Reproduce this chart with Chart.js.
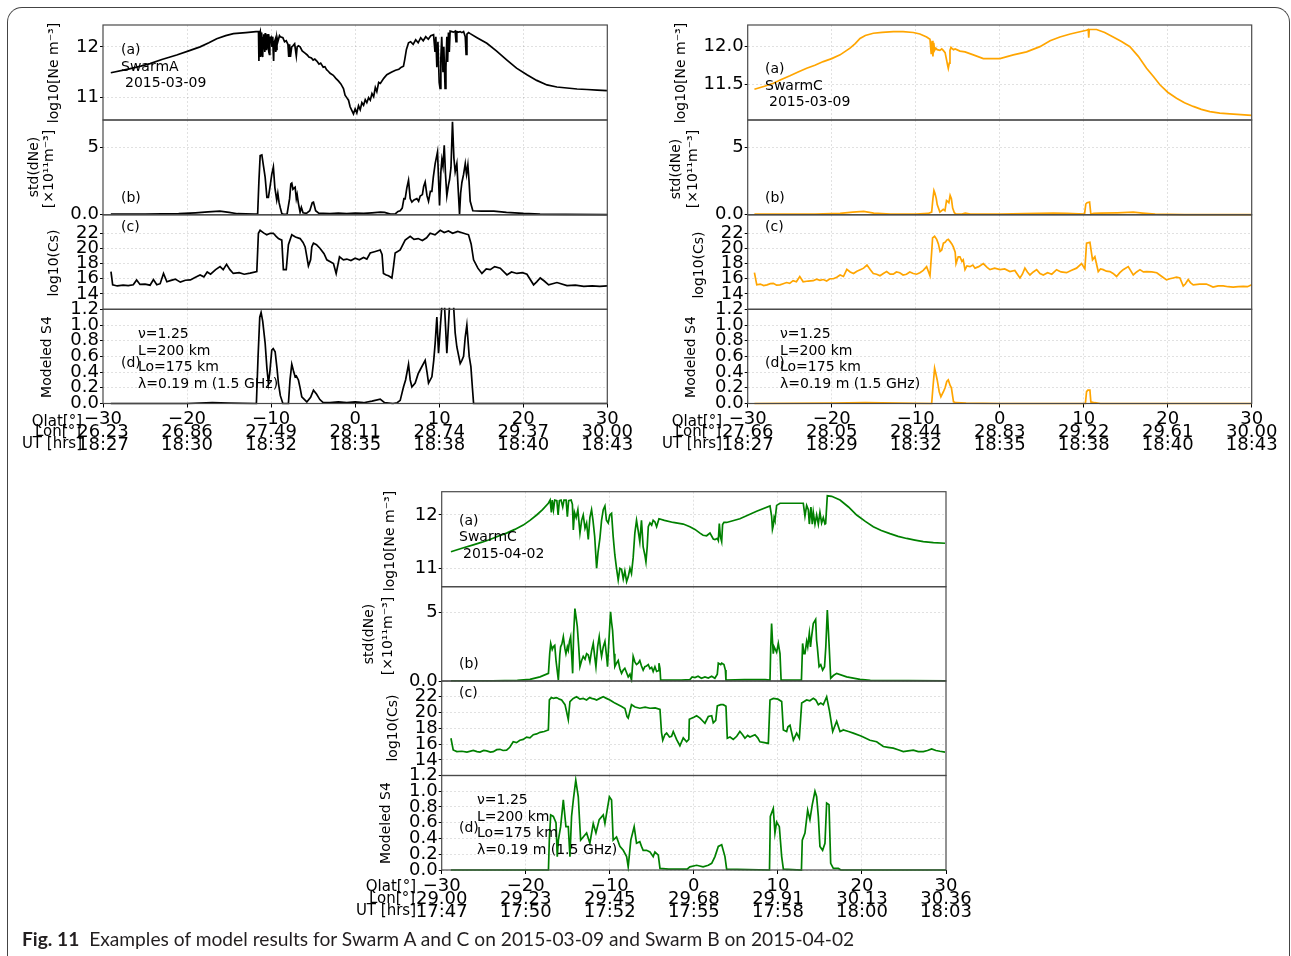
<!DOCTYPE html>
<html><head><meta charset="utf-8">
<script src="https://cdn.jsdelivr.net/npm/chart.js@4"></script>
<style>
html,body{margin:0;padding:0;}
body{width:1291px;height:956px;overflow:hidden;background:#fff;position:relative;font-family:"DejaVu Sans",sans-serif;}
canvas{position:absolute;}
.t{position:absolute;white-space:nowrap;color:#000;line-height:1;font-family:"DejaVu Sans",sans-serif;}
#frame{position:absolute;left:7px;top:7px;width:1283px;height:1100px;box-sizing:border-box;border:1.3px solid #444;border-bottom:none;border-radius:15px 15px 0 0;}
#cap{position:absolute;left:22px;top:938px;transform:translateY(-50%);font-family:Lato,"Liberation Sans",sans-serif;font-size:19.2px;color:#231f20;white-space:nowrap;}
</style></head><body>
<div id="frame"></div>
<script>
// ---------- tick labels ----------
const xTicks = [-30,-20,-10,0,10,20,30];
const lonA = ['26.23','26.86','27.49','28.11','28.74','29.37','30.00'];
const utA  = ['18:27','18:30','18:32','18:35','18:38','18:40','18:43'];
const lonC = ['27.66','28.05','28.44','28.83','29.22','29.61','30.00'];
const utC  = ['18:27','18:29','18:32','18:35','18:38','18:40','18:43'];
const lonB = ['29.00','29.23','29.45','29.68','29.91','30.13','30.36'];
const utB  = ['17:47','17:50','17:52','17:55','17:58','18:00','18:03'];
const neTicksA = [11,12];
const neTicksC = [11.5,12.0];
const neTicksB = [11,12];
const sdTicks = [0,5];
const csTicks = [14,16,18,20,22];
const s4Ticks = [0,0.2,0.4,0.6,0.8,1.0,1.2];

// ---------- Swarm A 2015-03-09 ----------
const neA = [[-29.07,11.49],[-27,11.56],[-25.5,11.62],[-24.4,11.67],[-23,11.75],[-21.23,11.84],[-19.8,11.92],[-18.45,12.0],[-17.4,12.08],[-16.47,12.16],[-15.4,12.22],[-14.48,12.26],[-13,12.28],[-11.8,12.3],[-11.5,12.3],
[-11.45,11.72],[-11.4,12.25],[-11.3,12.3],[-11.25,11.8],[-11.2,11.9],[-11.15,12.22],[-11.1,12.28],[-11.05,11.85],[-11.0,11.8],[-10.95,12.2],[-10.9,12.25],[-10.85,11.95],[-10.8,12.05],[-10.75,11.9],[-10.7,12.27],[-10.65,12.0],[-10.6,11.95],[-10.55,12.25],[-10.5,12.2],[-10.45,11.98],[-10.4,12.1],[-10.35,12.25],[-10.3,12.22],[-10.25,11.9],[-10.2,11.85],[-10.15,12.2],[-10.1,12.15],[-10.0,12.18],[-9.9,12.0],[-9.8,12.2],[-9.75,11.9],[-9.7,11.72],[-9.65,12.05],[-9.6,12.1],[-9.5,12.15],[-9.45,11.9],[-9.4,11.95],[-9.3,12.18],[-9.2,12.1],[-9.0,12.22],[-8.9,12.2],[-8.6,12.18],[-8.4,12.1],[-8.2,12.12],[-8.0,12.05],[-7.9,11.8],[-7.8,12.05],[-7.7,11.8],[-7.55,12.0],[-7.4,12.02],[-7.2,12.06],[-7.0,11.82],[-6.9,12.0],[-6.75,12.02],[-6.55,12.0],[-6.3,11.92],[-6.0,11.88],[-5.7,11.84],[-5.5,11.8],[-5.2,11.78],[-5.0,11.74],[-4.8,11.76],[-4.56,11.72],[-4.3,11.66],[-4.1,11.68],[-3.8,11.6],[-3.6,11.61],[-3.4,11.55],[-3.2,11.52],[-2.98,11.48],[-2.6,11.44],[-2.3,11.38],[-2.0,11.33],[-1.7,11.27],[-1.39,11.18],[-1.2,11.05],[-1.0,11.0],[-0.79,10.95],[-0.6,10.82],[-0.4,10.75],[-0.2,10.68],[0,10.78],[0.2,10.7],[0.4,10.84],[0.6,10.76],[0.8,10.9],[1.0,10.85],[1.2,10.96],[1.39,10.9],[1.6,11.0],[1.8,10.95],[2.0,11.08],[2.2,11.02],[2.4,11.2],[2.58,11.12],[2.8,11.3],[3.0,11.28],[3.4,11.38],[3.77,11.45],[4.3,11.5],[4.8,11.54],[5.2,11.56],[5.5,11.6],[5.75,11.62],[5.9,11.75],[6.1,11.95],[6.35,12.08],[6.6,12.1],[6.9,12.05],[7.2,12.14],[7.5,12.08],[7.8,12.18],[8.1,12.12],[8.4,12.2],[8.7,12.15],[9.0,12.22],[9.33,12.24],[9.5,11.9],[9.6,12.2],[9.72,11.6],[9.85,12.1],[10.0,11.3],[10.1,11.18],[10.2,11.8],[10.3,12.2],[10.45,11.5],[10.55,12.0],[10.7,11.18],[10.8,11.6],[10.91,12.2],[11.0,11.7],[11.1,12.28],[11.2,11.9],[11.3,12.31],[11.51,12.3],[11.7,12.29],[11.9,12.31],[12.0,12.1],[12.1,12.3],[12.3,12.29],[12.5,12.3],[12.7,12.28],[12.9,12.3],[13.1,12.2],[13.2,11.85],[13.3,12.25],[13.5,12.28],[13.69,12.26],[14.5,12.18],[15.67,12.07],[16.8,11.92],[18.06,11.74],[19.2,11.58],[20.44,11.45],[21.6,11.34],[22.82,11.25],[24,11.21],[25.2,11.19],[26.4,11.17],[27.58,11.16],[28.8,11.15],[29.96,11.14]];
const sdA = [[-29.07,0.05],[-25,0.05],[-21,0.08],[-19,0.15],[-17.5,0.22],[-16.1,0.27],[-15,0.18],[-14,0.08],[-12,0.05],[-11.6,0.05],[-11.45,2.5],[-11.3,4.4],[-11.1,4.45],[-10.9,3.6],[-10.71,2.8],[-10.5,1.3],[-10.32,1.3],[-10.1,2.2],[-9.92,3.0],[-9.73,3.55],[-9.55,2.0],[-9.33,1.1],[-9.2,1.6],[-9.05,0.9],[-8.9,0.5],[-8.73,0.1],[-8.5,0.03],[-8.1,0.05],[-7.8,1.2],[-7.65,2.3],[-7.54,2.36],[-7.4,1.9],[-7.14,2.05],[-7.0,1.2],[-6.9,1.5],[-6.75,0.85],[-6.55,0.2],[-6.4,0.55],[-6.2,0.15],[-5.8,0.1],[-5.4,0.3],[-5.1,0.9],[-4.96,0.94],[-4.7,0.3],[-4.3,0.1],[-3.8,0.1],[-3,0.08],[-2,0.12],[-1,0.08],[0,0.12],[1,0.1],[2,0.15],[3,0.2],[3.5,0.18],[4.2,0.05],[4.8,0.08],[5.1,0.25],[5.36,0.3],[5.6,0.5],[5.8,1.2],[5.95,1.19],[6.15,2.0],[6.35,2.56],[6.55,1.2],[6.75,0.94],[7.0,1.1],[7.34,1.2],[7.55,1.0],[7.74,1.4],[8.0,1.5],[8.15,2.1],[8.33,2.43],[8.55,1.4],[8.73,1.0],[8.95,1.74],[9.13,1.74],[9.3,2.8],[9.52,3.8],[9.8,4.67],[10.04,0.7],[10.2,3.2],[10.32,4.1],[10.45,3.6],[10.6,5.17],[10.75,3.0],[10.91,1.4],[11.1,2.2],[11.23,2.6],[11.4,3.5],[11.58,6.9],[11.75,4.2],[11.9,3.2],[12.1,3.8],[12.25,2.0],[12.42,0.05],[12.55,1.6],[12.7,2.4],[12.9,3.0],[13.1,3.8],[13.25,3.0],[13.41,3.7],[13.55,2.5],[13.69,1.0],[14.0,0.3],[15,0.28],[16.5,0.27],[18,0.18],[20,0.1],[22,0.05],[25,0.03],[30,0.02]];
const csA = [[-29.05,16.95],[-28.85,15.2],[-28.3,15.05],[-27.6,15.15],[-27,15.1],[-26.4,15.2],[-26.0,15.85],[-25.6,15.25],[-25,15.3],[-24.4,15.15],[-24.0,15.9],[-23.6,15.2],[-23.2,15.35],[-22.8,16.7],[-22.4,15.6],[-22.0,15.75],[-21.4,15.95],[-20.8,15.55],[-20.2,15.8],[-19.6,15.85],[-19.0,16.2],[-18.45,16.5],[-18.0,16.25],[-17.6,16.9],[-17.2,16.6],[-16.6,17.2],[-16.07,17.6],[-15.7,17.2],[-15.3,17.9],[-14.9,17.2],[-14.5,16.7],[-13.8,16.8],[-13.2,16.6],[-12.5,16.75],[-11.7,16.95],[-11.51,22.0],[-11.31,22.4],[-10.9,22.05],[-10.52,21.8],[-10.1,22.0],[-9.73,22.0],[-9.4,21.6],[-9.13,21.3],[-8.73,21.1],[-8.54,17.2],[-8.2,17.2],[-7.94,20.5],[-7.54,21.8],[-7.1,21.5],[-6.55,21.3],[-6.2,20.8],[-5.95,20.2],[-5.56,17.7],[-5.3,18.5],[-5.16,20.2],[-4.96,20.7],[-4.6,20.5],[-4.17,20.0],[-3.7,19.3],[-3.37,18.5],[-2.58,18.0],[-2.26,16.7],[-1.86,18.9],[-1.4,18.5],[-0.99,18.6],[-0.5,18.4],[0,18.7],[0.5,18.5],[1.0,18.8],[1.39,18.6],[1.79,19.4],[2.4,19.6],[2.98,19.8],[3.2,19.2],[3.37,16.7],[3.7,16.5],[3.97,16.4],[4.37,16.1],[4.55,17.5],[4.76,19.4],[5.36,19.8],[5.95,21.1],[6.55,21.6],[7.0,21.2],[7.5,21.3],[8.0,21.05],[8.5,21.4],[8.93,22.0],[9.5,21.8],[10.12,22.4],[10.6,22.1],[11.1,22.3],[11.6,22.0],[12.2,22.25],[12.9,22.0],[13.49,21.8],[13.8,20.6],[14.09,18.5],[14.6,17.4],[15.08,16.7],[15.6,17.3],[16.07,17.2],[16.6,17.6],[17.26,17.4],[18.06,16.5],[18.6,16.9],[19.25,16.7],[19.9,16.8],[20.44,16.6],[21.23,15.2],[21.6,15.6],[22.02,16.1],[22.5,15.7],[23.02,15.2],[24.01,15.5],[25.2,15.1],[26.2,15.15],[27.2,15.0],[28.2,15.05],[29.1,15.0],[30,15.05]];
const s4A = [[-29.07,0.0],[-20,0.0],[-17,0.01],[-15,0.005],[-11.75,0.0],[-11.55,0.6],[-11.35,1.1],[-11.19,1.16],[-11.0,1.05],[-10.71,0.77],[-10.5,0.45],[-10.32,0.26],[-10.15,0.4],[-9.92,0.68],[-9.75,0.7],[-9.52,0.66],[-9.3,0.45],[-9.13,0.26],[-8.9,0.1],[-8.6,0.0],[-7.94,0.0],[-7.75,0.3],[-7.54,0.5],[-7.35,0.42],[-7.14,0.34],[-7.0,0.35],[-6.75,0.3],[-6.55,0.2],[-6.35,0.085],[-5.75,0.02],[-5.3,0.08],[-4.96,0.17],[-4.6,0.12],[-4.2,0.05],[-3.8,0.01],[-3,0.01],[-2,0.02],[-1,0.01],[0,0.02],[1,0.01],[2,0.03],[2.98,0.055],[3.5,0.01],[4.5,0.0],[5.0,0.01],[5.36,0.04],[5.75,0.21],[6.0,0.3],[6.35,0.5],[6.55,0.3],[6.75,0.21],[7.14,0.26],[7.5,0.38],[7.74,0.43],[8.33,0.55],[8.55,0.4],[8.73,0.26],[9.13,0.34],[9.35,0.55],[9.52,0.77],[9.72,1.1],[9.92,0.64],[10.15,1.0],[10.32,1.25],[10.63,1.25],[10.91,0.64],[11.1,1.0],[11.23,1.25],[11.71,1.25],[11.9,0.9],[12.1,0.72],[12.5,0.51],[12.7,0.55],[12.9,0.6],[13.1,0.85],[13.29,1.0],[13.57,0.6],[13.77,0.47],[13.95,0.2],[14.09,0.0],[30,0.0]];

// ---------- Swarm C 2015-03-09 ----------
const neC = [[-29.2,11.43],[-28,11.47],[-26.95,11.51],[-26,11.56],[-24.97,11.61],[-24,11.66],[-22.98,11.71],[-22,11.75],[-21,11.8],[-20,11.84],[-19,11.89],[-17.82,11.98],[-17.2,12.04],[-16.63,12.11],[-16,12.15],[-15.05,12.18],[-14,12.19],[-12.67,12.2],[-11.5,12.2],[-10.29,12.19],[-9.5,12.17],[-8.7,12.13],[-8.3,12.1],[-8.15,11.9],[-8.05,12.08],[-7.95,11.87],[-7.85,12.05],[-7.75,11.95],[-7.6,11.98],[-7.44,11.96],[-7.12,11.95],[-6.9,11.97],[-6.72,11.95],[-6.5,11.92],[-6.32,11.82],[-6.2,11.75],[-6.12,11.71],[-6.0,11.78],[-5.92,11.95],[-5.8,11.99],[-5.72,11.98],[-5.5,11.96],[-5.3,11.97],[-4.73,11.94],[-4.13,11.93],[-3.14,11.89],[-1.95,11.84],[-1,11.84],[0.03,11.84],[1.62,11.89],[3.2,11.93],[4.79,12.0],[6,12.08],[7.17,12.13],[8.4,12.17],[9.55,12.2],[10.34,12.22],[10.54,12.23],[10.6,12.12],[10.66,12.23],[11.53,12.23],[12.5,12.19],[13.51,12.13],[14.5,12.07],[15.5,12.0],[16.5,11.87],[17.48,11.71],[18.3,11.6],[19.07,11.49],[20,11.39],[21.05,11.31],[22,11.25],[23.04,11.2],[24,11.16],[25.02,11.13],[26.2,11.11],[27.4,11.1],[28.7,11.09],[29.98,11.08]];
const sdC = [[-29.2,0.05],[-22,0.05],[-19,0.1],[-17.5,0.2],[-16.2,0.25],[-15,0.12],[-13,0.05],[-10,0.05],[-8.5,0.1],[-8.1,0.2],[-7.95,1.2],[-7.83,1.8],[-7.71,1.6],[-7.55,1.2],[-7.44,0.76],[-7.12,0.2],[-6.72,0.4],[-6.52,0.3],[-6.33,1.06],[-6.2,1.0],[-6.05,0.9],[-5.9,1.44],[-5.75,1.2],[-5.6,0.5],[-5.4,0.15],[-5.2,0.05],[-4.5,0.05],[-4.1,0.12],[-3.5,0.05],[0,0.05],[3,0.08],[6.38,0.13],[8,0.1],[10.1,0.05],[10.25,0.8],[10.4,0.9],[10.7,0.95],[10.85,0.05],[11.2,0.1],[12,0.12],[14,0.15],[15.9,0.2],[17,0.13],[18.5,0.05],[22,0.02],[30,0.02]];
const csC = [[-29.2,16.8],[-28.92,15.2],[-28.5,15.3],[-28.1,15.1],[-27.7,15.2],[-27.3,15.35],[-26.95,15.4],[-26.56,15.15],[-26.16,15.2],[-25.77,15.35],[-25.37,15.5],[-25.0,15.4],[-24.6,15.75],[-24.2,15.6],[-23.8,16.3],[-23.4,15.6],[-22.8,15.7],[-22.2,15.75],[-21.8,15.95],[-21.4,15.8],[-21.0,15.9],[-20.6,15.7],[-20.2,16.0],[-19.8,16.0],[-19.4,16.2],[-19.0,16.5],[-18.6,16.3],[-18.2,17.25],[-17.8,16.9],[-17.4,16.7],[-17.0,17.0],[-16.6,17.2],[-16.2,17.4],[-15.8,17.8],[-15.4,17.2],[-15.05,16.7],[-14.65,16.6],[-14.25,16.4],[-13.85,16.7],[-13.46,16.95],[-13.05,16.6],[-12.67,16.6],[-12.3,16.9],[-11.9,16.8],[-11.5,16.5],[-11.1,16.6],[-10.7,16.9],[-10.29,16.7],[-9.9,16.6],[-9.5,16.8],[-9.1,17.1],[-8.7,17.6],[-8.3,16.4],[-8.1,19.5],[-7.99,21.4],[-7.75,21.6],[-7.5,21.2],[-7.3,20.6],[-7.1,19.6],[-6.9,19.8],[-6.7,20.7],[-6.5,20.8],[-6.3,21.1],[-6.12,21.2],[-5.9,20.9],[-5.7,20.6],[-5.52,20.2],[-5.3,19.5],[-5.2,18.0],[-4.94,18.9],[-4.73,18.9],[-4.5,18.3],[-4.34,18.5],[-4.13,17.2],[-3.9,17.7],[-3.54,17.6],[-3.2,17.8],[-2.94,17.4],[-2.5,17.6],[-1.95,18.0],[-1.5,17.5],[-1.16,17.2],[-0.6,17.4],[0.03,17.2],[0.6,17.3],[1.22,16.95],[1.8,17.1],[2.41,16.1],[2.7,16.6],[3.0,17.4],[3.3,16.9],[3.6,16.5],[4.0,16.9],[4.4,17.2],[4.8,16.7],[5.19,16.5],[5.7,16.8],[6.2,16.6],[6.77,17.2],[7.3,16.9],[7.96,16.8],[8.5,17.1],[9.15,17.4],[9.75,18.0],[10.14,17.3],[10.34,20.7],[10.74,20.8],[11.05,18.5],[11.33,18.9],[11.73,16.95],[12.0,17.3],[12.32,17.2],[12.7,17.0],[13.12,16.95],[13.5,16.7],[13.91,16.3],[14.3,16.8],[14.7,17.2],[15.3,17.6],[15.9,16.5],[16.3,16.9],[16.7,17.2],[17.1,16.9],[17.5,16.95],[18.1,16.9],[18.7,16.8],[19.3,16.3],[19.86,15.85],[20.25,16.0],[20.65,16.1],[21.05,16.2],[21.45,16.1],[21.85,15.05],[22.1,15.3],[22.44,15.9],[22.7,15.5],[23.04,15.2],[23.8,15.3],[24.6,15.3],[25.0,15.1],[25.4,14.9],[26.0,15.05],[26.6,15.05],[27.2,14.95],[27.8,14.9],[28.4,14.95],[29.0,15.0],[29.5,14.95],[30,15.2]];
const s4C = [[-29.2,0],[-20,0.005],[-16,0.01],[-12,0.005],[-8.1,0.0],[-7.95,0.2],[-7.75,0.45],[-7.6,0.38],[-7.44,0.3],[-7.2,0.15],[-7.0,0.085],[-6.7,0.15],[-6.5,0.2],[-6.3,0.28],[-6.12,0.3],[-5.9,0.23],[-5.75,0.2],[-5.5,0.02],[-5.2,0.01],[-4,0.005],[0,0.0],[10.2,0.0],[10.34,0.15],[10.5,0.17],[10.74,0.17],[10.85,0.02],[11.3,0.01],[12,0],[30,0]];

// ---------- Swarm C 2015-04-02 ----------
const neB = [[-28.9,11.31],[-27.5,11.38],[-26.24,11.44],[-25.2,11.49],[-24.26,11.54],[-23.3,11.6],[-22.28,11.66],[-21.3,11.73],[-20.3,11.81],[-19.5,11.9],[-18.7,12.0],[-18.0,12.1],[-17.31,12.22],[-17.1,12.28],[-16.95,12.05],[-16.85,12.28],[-16.7,12.1],[-16.55,12.28],[-16.3,12.27],[-16.15,12.0],[-16.0,12.27],[-15.8,12.28],[-15.6,12.15],[-15.45,12.28],[-15.2,12.28],[-15.05,11.97],[-14.9,12.27],[-14.6,12.28],[-14.45,12.2],[-14.34,11.72],[-14.2,12.05],[-14.0,11.95],[-13.8,12.1],[-13.55,11.66],[-13.35,11.9],[-13.16,12.0],[-12.95,11.75],[-12.76,11.85],[-12.56,11.54],[-12.37,11.95],[-12.17,12.1],[-12.0,11.9],[-11.8,11.6],[-11.57,11.0],[-11.4,11.3],[-11.18,11.56],[-10.98,11.9],[-10.78,12.1],[-10.58,12.17],[-10.4,11.9],[-10.19,11.85],[-10.0,12.0],[-9.79,12.03],[-9.6,11.6],[-9.4,11.25],[-9.2,11.0],[-9.0,10.78],[-8.8,11.0],[-8.6,10.98],[-8.4,10.8],[-8.21,10.95],[-8.0,10.75],[-7.81,10.84],[-7.6,11.0],[-7.42,10.9],[-7.22,11.2],[-7.02,11.66],[-6.82,11.9],[-6.62,11.7],[-6.43,11.5],[-6.23,11.9],[-6.03,11.4],[-5.83,11.25],[-5.7,11.12],[-5.55,11.4],[-5.42,11.78],[-5.22,11.85],[-5.02,11.81],[-4.84,11.9],[-4.63,11.87],[-4.43,11.78],[-4.15,11.93],[-3.5,11.9],[-2.45,11.86],[-1.26,11.83],[-0.47,11.78],[0.13,11.73],[0.73,11.66],[1.1,11.62],[1.52,11.61],[1.92,11.66],[2.31,11.55],[2.51,11.54],[2.79,11.56],[2.91,11.52],[3.03,11.84],[3.15,11.6],[3.31,11.5],[3.42,11.82],[3.58,11.86],[3.9,11.86],[5.48,11.93],[7.47,12.07],[9.06,12.17],[9.25,11.98],[9.35,11.73],[9.45,11.8],[9.55,11.95],[9.65,11.9],[9.85,12.18],[10.25,12.22],[13.02,12.22],[13.22,11.98],[13.42,12.18],[13.62,12.1],[13.74,11.83],[13.93,12.15],[14.09,11.83],[14.21,12.05],[14.41,11.83],[14.61,12.0],[14.81,11.83],[15.0,12.05],[15.2,11.85],[15.4,11.95],[15.6,11.83],[15.68,11.84],[15.88,12.36],[16.4,12.35],[17.39,12.28],[18.4,12.15],[19.37,12.0],[20.4,11.88],[21.35,11.78],[22.3,11.71],[23.33,11.65],[24.3,11.6],[25.32,11.56],[26.3,11.53],[27.3,11.5],[28.5,11.48],[29.88,11.47]];
const sdB = [[-28.9,0.02],[-24,0.02],[-21,0.05],[-19.5,0.12],[-18.3,0.3],[-17.3,0.56],[-17.15,2.0],[-17.03,2.75],[-16.85,2.3],[-16.72,2.5],[-16.55,2.6],[-16.4,1.5],[-16.12,0.07],[-15.95,1.9],[-15.85,2.5],[-15.7,2.7],[-15.53,3.24],[-15.35,2.4],[-15.22,2.0],[-15.05,2.5],[-14.94,2.25],[-14.8,2.9],[-14.66,3.24],[-14.5,1.5],[-14.42,0.56],[-14.3,3.5],[-14.15,5.3],[-14.0,4.6],[-13.87,4.0],[-13.7,2.5],[-13.55,1.05],[-13.35,1.5],[-13.16,1.8],[-12.95,1.6],[-12.76,2.0],[-12.56,1.9],[-12.37,1.4],[-12.17,2.2],[-11.97,2.75],[-11.8,1.8],[-11.65,1.05],[-11.45,2.5],[-11.26,3.24],[-11.1,2.3],[-10.98,1.8],[-10.78,2.5],[-10.58,2.9],[-10.4,1.9],[-10.27,1.05],[-10.1,3.0],[-9.91,5.07],[-9.79,4.3],[-9.67,3.7],[-9.5,2.0],[-9.4,1.05],[-9.2,1.3],[-9.0,1.5],[-8.8,0.9],[-8.6,0.56],[-8.4,0.8],[-8.21,0.93],[-8.0,0.6],[-7.81,0.3],[-7.6,0.5],[-7.42,0.07],[-7.22,1.8],[-7.02,1.4],[-6.82,1.2],[-6.62,1.3],[-6.43,1.5],[-6.23,1.1],[-6.03,0.8],[-5.83,1.05],[-5.63,1.1],[-5.42,1.2],[-5.22,0.9],[-5.02,1.0],[-4.84,0.7],[-4.63,1.05],[-4.43,0.7],[-4.25,0.75],[-4.15,1.3],[-4.03,0.9],[-3.95,0.07],[-3,0.07],[-1.5,0.07],[-0.47,0.1],[-0.2,0.3],[0.13,0.25],[0.5,0.35],[0.9,0.2],[1.32,0.3],[1.72,0.22],[2.12,0.35],[2.5,0.2],[2.79,0.5],[2.91,1.3],[3.2,1.2],[3.31,1.3],[3.58,1.2],[3.75,0.8],[3.82,0.07],[6,0.1],[8.5,0.1],[9.06,0.07],[9.15,2.5],[9.25,4.2],[9.35,3.0],[9.45,2.0],[9.55,2.5],[9.65,2.5],[9.85,2.1],[10.05,2.75],[10.17,2.3],[10.25,2.0],[10.38,0.07],[11,0.07],[12.8,0.07],[12.94,2.75],[13.1,2.0],[13.22,2.0],[13.42,2.9],[13.55,2.5],[13.74,3.5],[13.88,2.5],[14.0,3.2],[14.21,4.2],[14.49,4.5],[14.6,3.0],[14.69,2.5],[14.9,1.05],[15.1,1.2],[15.32,0.8],[15.55,1.05],[15.7,2.5],[15.88,5.2],[16.08,2.8],[16.28,0.2],[16.6,0.4],[16.99,0.56],[18.18,0.3],[19.77,0.12],[21,0.05],[30,0.02]];
const csB = [[-28.9,16.75],[-28.63,15.27],[-28.2,15.06],[-27.6,15.1],[-27.0,15.0],[-26.24,15.2],[-25.8,15.05],[-25.45,15.0],[-25.0,15.2],[-24.65,15.15],[-24.2,15.0],[-23.86,15.05],[-23.45,15.3],[-23.07,15.35],[-22.7,15.2],[-22.28,15.25],[-21.9,15.6],[-21.49,16.3],[-21.1,16.2],[-20.7,16.5],[-20.3,16.6],[-19.9,16.9],[-19.5,16.8],[-19.1,17.2],[-18.7,17.3],[-18.3,17.5],[-17.8,17.6],[-17.31,17.8],[-17.19,21.6],[-16.95,21.9],[-16.72,21.8],[-16.32,21.9],[-16.0,21.7],[-15.73,21.6],[-15.33,21.0],[-15.14,20.1],[-14.94,19.1],[-14.74,21.4],[-14.35,21.8],[-13.95,22.0],[-13.55,21.7],[-13.16,21.8],[-12.76,21.6],[-12.4,21.9],[-12.17,21.8],[-11.8,21.7],[-11.57,21.6],[-11.2,21.8],[-10.78,22.0],[-10.4,21.8],[-9.99,21.6],[-9.7,21.4],[-9.4,21.2],[-9.0,21.0],[-8.6,20.76],[-8.2,20.5],[-7.95,19.5],[-7.81,19.3],[-7.6,20.2],[-7.42,21.0],[-7.0,20.7],[-6.43,20.55],[-5.8,20.7],[-5.22,20.55],[-4.6,20.6],[-4.03,20.4],[-3.85,17.5],[-3.7,16.5],[-3.45,17.2],[-3.24,17.4],[-2.9,16.9],[-2.65,17.0],[-2.45,17.6],[-2.06,16.6],[-1.66,15.8],[-1.26,16.8],[-0.86,16.3],[-0.6,16.6],[-0.54,19.15],[0,19.4],[0.33,19.6],[0.73,19.3],[1.0,19.0],[1.32,18.65],[1.72,19.5],[2.12,19.6],[2.31,18.7],[2.6,19.0],[2.79,20.85],[3.2,21.0],[3.5,21.0],[3.82,20.8],[3.98,16.75],[4.3,16.9],[4.69,16.6],[5.1,17.0],[5.48,17.6],[5.8,17.2],[6.08,16.75],[6.4,17.1],[6.67,16.9],[7.27,17.2],[7.6,16.8],[7.86,16.3],[8.4,16.2],[8.86,16.1],[9.06,21.6],[9.45,21.8],[10.0,21.7],[10.45,21.4],[10.65,17.8],[11.04,17.6],[11.2,18.2],[11.44,18.4],[11.84,16.5],[12.23,17.4],[12.55,16.75],[12.83,21.2],[13.42,21.6],[13.8,21.5],[14.21,21.8],[14.5,21.6],[14.81,21.0],[15.1,21.2],[15.4,21.0],[15.6,21.5],[15.8,22.0],[16.12,20.3],[16.52,17.6],[16.99,18.9],[17.39,17.6],[17.79,17.8],[18.4,17.6],[18.97,17.4],[19.96,17.0],[20.95,16.5],[21.75,16.3],[22.54,15.7],[23.1,15.6],[23.73,15.5],[24.3,15.3],[24.92,15.06],[25.5,15.15],[26.11,15.25],[26.7,15.05],[27.3,15.06],[27.8,15.2],[28.29,15.4],[28.8,15.2],[29.28,15.1],[29.88,15.0]];
const s4B = [[-28.9,0],[-17.3,0],[-17.19,0.4],[-17.03,0.7],[-16.72,0.68],[-16.4,0.6],[-16.25,0.17],[-16.12,0.38],[-15.85,0.55],[-15.53,0.89],[-15.22,0.55],[-14.94,0.55],[-14.74,0.17],[-14.55,0.68],[-14.34,0.89],[-14.05,1.14],[-13.75,0.93],[-13.47,0.38],[-13.16,0.42],[-12.76,0.47],[-12.37,0.34],[-11.97,0.59],[-11.65,0.47],[-11.26,0.64],[-10.78,0.7],[-10.58,0.59],[-10.38,0.72],[-10.05,0.93],[-9.79,0.89],[-9.6,0.38],[-9.2,0.42],[-8.8,0.3],[-8.4,0.25],[-8.0,0.17],[-7.81,0.04],[-7.5,0.38],[-7.1,0.55],[-6.82,0.34],[-6.43,0.36],[-6.23,0.3],[-6.03,0.25],[-5.63,0.25],[-5.22,0.23],[-4.84,0.17],[-4.63,0.23],[-4.23,0.19],[-4.03,0.02],[-3,0.01],[-0.8,0.01],[-0.47,0.04],[0.33,0.06],[1.1,0.04],[1.72,0.06],[2.12,0.085],[2.51,0.17],[2.91,0.3],[3.31,0.32],[3.7,0.17],[3.9,0.01],[9.0,0],[9.1,0.68],[9.45,0.78],[9.65,0.47],[9.85,0.61],[10.17,0.55],[10.45,0.17],[10.65,0.01],[12.8,0],[12.9,0.38],[13.22,0.47],[13.54,0.76],[13.81,0.64],[14.09,0.83],[14.41,1.0],[14.61,0.93],[14.81,0.68],[15.0,0.3],[15.32,0.25],[15.6,0.34],[15.8,0.85],[16.08,0.83],[16.28,0.085],[16.6,0.02],[17.19,0.02],[17.5,0],[30,0]];

// ---------- helpers ----------
const GRID = 'rgba(0,0,0,0.15)';
const framePlugin = {id:'frame', afterDraw(ch){
  const a = ch.chartArea, c = ch.ctx;
  c.save(); c.strokeStyle = '#4a4a4a'; c.lineWidth = 1.2;
  c.strokeRect(a.left, a.top, a.right - a.left, a.bottom - a.top); c.restore();
}};
const fmtQ = v => v < 0 ? '\u2212' + Math.abs(v) : String(v);
const fmtInt = v => String(v);
const fmt1 = v => v.toFixed(1);
const fmtSd = v => v === 0 ? '0.0' : String(v);

function panel(p){
  const cl = Math.floor(p.l) - 70, ct = Math.floor(p.t) - 16;
  const cr = Math.ceil(p.r) + 34, cb = Math.ceil(p.b) + (p.xLab ? 70 : 16);
  const cv = document.createElement('canvas');
  cv.width = cr - cl; cv.height = cb - ct;
  cv.style.left = cl + 'px'; cv.style.top = ct + 'px';
  cv.style.width = (cr - cl) + 'px'; cv.style.height = (cb - ct) + 'px';
  document.body.appendChild(cv);
  const yW = p.l - cl, xH = cb - p.b;
  new Chart(cv, {
    type: 'line',
    data: {datasets: [{data: p.data.map(d => ({x: d[0], y: d[1]})), borderColor: p.color, borderWidth: 1.7,
      pointRadius: 0, tension: 0, fill: false, clip: 1.5}]},
    options: {
      responsive: false, animation: false, devicePixelRatio: 1, events: [],
      layout: {padding: {left: 0, top: p.t - ct, right: cr - p.r, bottom: p.xLab ? 0 : (cb - p.b)}},
      plugins: {legend: {display: false}, tooltip: {enabled: false}},
      scales: {
        x: {type: 'linear', min: -30, max: 30, bounds: 'data',
          afterBuildTicks: s => { s.ticks = xTicks.map(v => ({value: v})); },
          afterFit: s => { s.height = p.xLab ? xH : 0; },
          grid: {color: c => (c.tick && Math.abs(c.tick.value) === 30) ? 'rgba(0,0,0,0)' : GRID, lineWidth: 0.8,
            drawTicks: !!p.xLab, tickLength: 4, tickColor: '#000', tickWidth: 1},
          border: {display: false, dash: [2, 2]},
          ticks: {display: !!p.xLab, autoSkip: false, maxRotation: 0, minRotation: 0, padding: 5.5, color: '#000',
            font: {family: 'DejaVu Sans', size: 18, lineHeight: '13px'},
            callback: (v, i) => p.xLab ? [fmtQ(v), p.xLab[0][i], p.xLab[1][i]] : ''}
        },
        y: {type: 'linear', min: p.yMin, max: p.yMax, bounds: 'data',
          afterBuildTicks: s => { s.ticks = p.yTicks.map(v => ({value: v})); },
          afterFit: s => { s.width = yW; },
          grid: {color: GRID, lineWidth: 0.8, drawTicks: true, tickLength: 3, tickColor: '#000', tickWidth: 1},
          border: {display: false, dash: [2, 2]},
          ticks: {autoSkip: false, padding: 1, color: '#000', font: {family: 'DejaVu Sans', size: 18},
            callback: v => p.yFmt(v)}
        }
      }
    },
    plugins: [framePlugin]
  });
}

function T(s, x, y, o){
  o = o || {};
  const d = document.createElement('div');
  d.className = 't'; d.textContent = s;
  d.style.fontSize = (o.size || 14) + 'px';
  d.style.left = x + 'px'; d.style.top = y + 'px';
  let tr = 'translateY(-50%)';
  if (o.rot) tr = 'translate(-50%,-50%) rotate(-90deg)';
  else if (o.align === 'right') tr = 'translate(-100%,-50%)';
  d.style.transform = tr;
  document.body.appendChild(d);
}

// ---------- group geometry ----------
const gA = {l: 103, r: 607.3, ys: [25, 120, 214.8, 309.3, 403.5], color: '#000000'};
const gC = {l: 747.7, r: 1251.7, ys: [25, 120, 214.8, 309.3, 403.5], color: '#ffa500'};
const gB = {l: 441.7, r: 946, ys: [491.7, 586.7, 681, 775.5, 870], color: '#008000'};

function group(g, ne, sd, cs, s4, neR, neT, neF, sdMax, csR, lon, ut){
  const L = [
    {data: ne, yMin: neR[0], yMax: neR[1], yTicks: neT, yFmt: neF},
    {data: sd, yMin: 0, yMax: sdMax, yTicks: sdTicks, yFmt: fmtSd},
    {data: cs, yMin: csR[0], yMax: csR[1], yTicks: csTicks, yFmt: fmtInt},
    {data: s4, yMin: 0, yMax: 1.2, yTicks: s4Ticks, yFmt: fmt1, xLab: [lon, ut]}
  ];
  L.forEach((q, i) => panel(Object.assign({l: g.l, r: g.r, t: g.ys[i], b: g.ys[i + 1], color: g.color}, q)));
}

group(gA, neA, sdA, csA, s4A, [10.56, 12.43], neTicksA, fmtInt, 7.04, [11.97, 24.44], lonA, utA);
group(gC, neC, sdC, csC, s4C, [11.018, 12.29], neTicksC, fmt1, 7.04, [11.97, 24.44], lonC, utC);
group(gB, neB, sdB, csB, s4B, [10.655, 12.437], neTicksB, fmtInt, 6.9, [12.03, 24.0], lonB, utB);

// ---------- annotations ----------
const params = ['\u03bd=1.25', 'L=200 km', 'Lo=175 km', '\u03bb=0.19 m (1.5 GHz)'];
function annot(o){
  T('(a)', o.ax, o.ay[0]); T(o.sat, o.ax, o.ay[1]); T(o.date, o.ax + 4, o.ay[2]);
  T('(b)', o.ax, o.by); T('(c)', o.ax, o.cy); T('(d)', o.ax, o.dy);
  params.forEach((s, i) => T(s, o.px, o.py[i]));
  T('log10[Ne m\u207b\u00b3]', o.yt[0][0], o.yt[0][1], {rot: 1});
  T('std(dNe)', o.yt[1][0], o.yt[1][1], {rot: 1});
  T('[\u00d710\u00b9\u00b9m\u207b\u00b3]', o.yt[2][0], o.yt[2][1], {rot: 1});
  T('log10(Cs)', o.yt[3][0], o.yt[3][1], {rot: 1});
  T('Modeled S4', o.yt[4][0], o.yt[4][1], {rot: 1});
  T('Qlat[\u00b0]', o.xr, o.xl[0], {align: 'right', size: 15});
  T('Lon[\u00b0]', o.xr - 1, o.xl[1], {align: 'right', size: 15});
  T('UT [hrs]', o.xr, o.xl[2], {align: 'right', size: 15});
}
annot({sat: 'SwarmA', date: '2015-03-09', ax: 121, ay: [49, 66, 82], by: 197, cy: 226, dy: 362,
  px: 138, py: [333, 349.5, 366, 383],
  yt: [[53, 73], [33, 167], [48, 169], [53, 263], [46, 357]], xr: 82, xl: [421, 431, 443]});
annot({sat: 'SwarmC', date: '2015-03-09', ax: 765, ay: [68, 85, 101], by: 197, cy: 226, dy: 362,
  px: 780, py: [333, 349.5, 366, 383],
  yt: [[680, 73], [675, 169], [692, 169], [697.5, 265], [690, 357]], xr: 722, xl: [421, 431, 443]});
annot({sat: 'SwarmC', date: '2015-04-02', ax: 459, ay: [520, 536, 552.7], by: 663, cy: 692, dy: 827,
  px: 477, py: [799, 815.7, 832.3, 848.7],
  yt: [[388.5, 541], [368, 634], [386.5, 636], [391.5, 728], [384.5, 823]], xr: 416, xl: [886, 898, 910]});

const cap = document.createElement('div');
cap.id = 'cap';
cap.innerHTML = '<b>Fig. 11</b>&nbsp;&nbsp;Examples of model results for Swarm A and C on 2015-03-09 and Swarm B on 2015-04-02';
document.body.appendChild(cap);
</script>
</body></html>
